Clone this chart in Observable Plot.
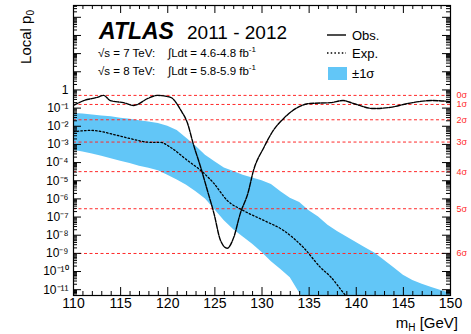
<!DOCTYPE html>
<html><head><meta charset="utf-8">
<script src="https://cdn.jsdelivr.net/npm/d3@7"></script>
<script src="https://cdn.jsdelivr.net/npm/@observablehq/plot@0.6"></script>
<style>body{margin:0;background:#fff}</style>
</head><body><div id="chart"></div>
<script>
// ---- data ----
const obsMass = [110, 111.1, 112.5, 113.2, 113.9, 115.3, 116.4, 117.9, 118.9, 120.3, 121.4, 122.1, 122.7, 123.5, 124.2, 124.9, 125.6, 126.3, 127.0, 127.7, 128.5, 129.1, 130.2, 131.2, 132.3, 133.8, 135.1, 137.3, 138.6, 139.7, 141.8, 143.6, 145.5, 148.0, 150];
const obsP = [0.14, 0.26, 0.39, 0.5, 0.26, 0.20, 0.14, 0.34, 0.5, 0.39, 0.074, 0.0145, 1.1e-3, 5.4e-5, 3.0e-6, 1.6e-7, 5.1e-9, 1.9e-9, 7.6e-9, 1.6e-7, 2.0e-6, 3.7e-5, 6.8e-4, 5.9e-3, 0.027, 0.11, 0.18, 0.20, 0.26, 0.18, 0.095, 0.11, 0.18, 0.26, 0.23];

const expMass = [110, 111.8, 114.7, 116.0, 118.2, 119.2, 120.3, 122.1, 123.5, 124.9, 126.3, 128.0, 130.2, 132.3, 134.4, 136.2, 137.3, 138.6, 140];
const expP = [5e-3, 5.9e-3, 3.1e-3, 2.1e-3, 1.3e-3, 1.3e-3, 6.8e-4, 1.3e-4, 3.7e-5, 7.1e-6, 8.3e-7, 2.3e-7, 6.5e-8, 1.8e-8, 2.1e-9, 1.7e-10, 5.0e-11, 7.1e-12, 1e-12];

const bandMass = [110,111,112,113,114,115,116,117,118,119,120,121,122,123,124,125,126,127,128,129,130,131,132,133,134,135,136,137,138,139,140,141,142,143,144,145,146,147,148,149,150];
const bandHi = [0.051,0.047,0.042,0.037,0.033,0.028,0.024,0.020,0.017,0.014,0.010,5.9e-3,2.2e-3,7.9e-4,2.5e-4,1.1e-4,5.0e-5,3.2e-5,2.0e-5,1.4e-5,1.0e-5,6.3e-6,2.5e-6,1.1e-6,6.3e-7,2.2e-7,1.0e-7,3.5e-8,1.6e-8,7.9e-9,4.0e-9,2.0e-9,1.0e-9,4.0e-10,1.6e-10,6.3e-11,3.2e-11,2.0e-11,1.3e-11,8.9e-12,6.3e-12];
const bandLo = [4.7e-4,3.8e-4,3.0e-4,2.2e-4,1.6e-4,1.2e-4,8.9e-5,6.3e-5,4.8e-5,3.5e-5,2.0e-5,1.1e-5,5.6e-6,2.5e-6,1.0e-6,2.5e-7,6.3e-8,2.0e-8,7.9e-9,3.2e-9,1.1e-9,3.5e-10,1.3e-10,4.5e-11,6.3e-12,1e-12,1e-13,1e-13,1e-13,1e-13,1e-13,1e-13,1e-13,1e-13,1e-13,1e-13,1e-13,1e-13,1e-13,1e-13,1e-13];

const sigmaP = [0.5, 0.1587, 0.02275, 1.35e-3, 3.17e-5, 2.87e-7, 9.87e-10];
const sigmaLabels = ["0σ", "1σ", "2σ", "3σ", "4σ", "5σ", "6σ"];

const xTickLabels = [110, 115, 120, 125, 130, 135, 140, 145, 150];
const yTickLabels = [1, 1e-1, 1e-2, 1e-3, 1e-4, 1e-5, 1e-6, 1e-7, 1e-8, 1e-9, 1e-10, 1e-11];

// ---- layout ----
const W = 471, H = 334, mL = 73, mR = 21, mT = 5, mB = 39;
const FW = W - mL - mR, FH = H - mT - mB;
const yDomain = [Math.pow(10, -11.32), Math.pow(10, 4.65)];

const obs = obsMass.map((m, i) => ({m, p: obsP[i]}));
const exp = expMass.map((m, i) => ({m, p: expP[i]}));
const band = bandMass.map((m, i) => ({m, hi: bandHi[i], lo: bandLo[i]}));

const xMinor = d3.range(110, 151, 1).filter(d => d % 5 !== 0);
const yMajor = d3.range(-11, 5).map(e => Math.pow(10, e));
const yMinor = [];
for (let e = -12; e <= 4; e++) for (let k = 2; k <= 9; k++) {
  const v = k * Math.pow(10, e);
  if (v > yDomain[0] && v < yDomain[1]) yMinor.push(v);
}
const supMap = {"-": "⁻", "0": "⁰", "1": "¹", "2": "²", "3": "³", "4": "⁴", "5": "⁵", "6": "⁶", "7": "⁷", "8": "⁸", "9": "⁹"};
const fmtY = d => {
  const e = Math.round(Math.log10(d));
  return e === 0 ? "1" : "10" + String(e).split("").map(c => supMap[c]).join("");
};

const MAJ = 8, MIN = 4;
const RED = "#ff2a2a";
const chart = Plot.plot({
  width: W, height: H,
  marginLeft: mL, marginRight: mR, marginTop: mT, marginBottom: mB,
  style: {fontFamily: "'Liberation Sans', Arial, Helvetica, sans-serif", background: "white", overflow: "visible"},
  x: {domain: [110, 150], axis: null},
  y: {type: "log", domain: yDomain, axis: null},
  marks: [
    Plot.areaY(band, {x: "m", y1: "lo", y2: "hi", fill: "#62c6f7", clip: true}),
    Plot.ruleY(sigmaP, {y: d => d, stroke: RED, strokeWidth: 1, strokeDasharray: "3,2.5"}),
    Plot.line(exp, {x: "m", y: "p", stroke: "black", strokeWidth: 1.3, strokeDasharray: "1.5,2.2", curve: "monotone-x", clip: true}),
    Plot.line(obs, {x: "m", y: "p", stroke: "black", strokeWidth: 1.4, strokeDasharray: "5,1.3", curve: "monotone-x", clip: true}),
    // x ticks (bottom, top) inward
    Plot.ruleX(xTickLabels, {x: d => d, insetTop: FH - MAJ, stroke: "black"}),
    Plot.ruleX(xMinor, {x: d => d, insetTop: FH - MIN, stroke: "black"}),
    Plot.ruleX(xTickLabels, {x: d => d, insetBottom: FH - MAJ, stroke: "black"}),
    Plot.ruleX(xMinor, {x: d => d, insetBottom: FH - MIN, stroke: "black"}),
    // y ticks (left, right) inward
    Plot.ruleY(yMajor, {y: d => d, insetRight: FW - MAJ, stroke: "black"}),
    Plot.ruleY(yMinor, {y: d => d, insetRight: FW - MIN, stroke: "black"}),
    Plot.ruleY(yMajor, {y: d => d, insetLeft: FW - MAJ, stroke: "black"}),
    Plot.ruleY(yMinor, {y: d => d, insetLeft: FW - MIN, stroke: "black"}),
    Plot.frame({stroke: "black", strokeWidth: 1.2}),
    // tick labels
    Plot.text(xTickLabels, {x: d => d, frameAnchor: "bottom", dy: 12, text: d => String(d), fontSize: 14, fill: "black"}),
    Plot.text(yTickLabels, {y: d => d, frameAnchor: "left", dx: -5, textAnchor: "end", text: fmtY, fontSize: 12, fill: "black"}),
    Plot.text(sigmaP, {y: d => d, frameAnchor: "right", dx: 6, textAnchor: "start", text: (d, i) => sigmaLabels[i], fontSize: 9, fill: RED})
  ]
});
document.getElementById("chart").appendChild(chart);

// ---- annotations ----
const svg = d3.select(chart);
const g = svg.append("g").attr("fill", "black").attr("text-anchor", "start");
g.append("text").attr("x", 99).attr("y", 39).attr("font-size", 23).attr("font-weight", "bold").attr("font-style", "italic").text("ATLAS");
g.append("text").attr("x", 187).attr("y", 39).attr("font-size", 19).text("2011 - 2012");
const l1 = g.append("text").attr("x", 98).attr("y", 57).attr("font-size", 11.5);
l1.append("tspan").text("√s = 7 TeV:");
l1.append("tspan").attr("x", 168).text("∫Ldt = 4.6-4.8 fb");
l1.append("tspan").attr("font-size", 8).attr("dy", -5).text("-1");
const l2 = g.append("text").attr("x", 98).attr("y", 75).attr("font-size", 11.5);
l2.append("tspan").text("√s = 8 TeV:");
l2.append("tspan").attr("x", 168).text("∫Ldt = 5.8-5.9 fb");
l2.append("tspan").attr("font-size", 8).attr("dy", -5).text("-1");

// legend
g.append("line").attr("x1", 327).attr("x2", 346).attr("y1", 35).attr("y2", 35).attr("stroke", "black").attr("stroke-width", 1.4);
g.append("text").attr("x", 352).attr("y", 39.5).attr("font-size", 13).text("Obs.");
g.append("line").attr("x1", 327).attr("x2", 346).attr("y1", 53).attr("y2", 53).attr("stroke", "black").attr("stroke-width", 1.3).attr("stroke-dasharray", "1.5,2.2");
g.append("text").attr("x", 352).attr("y", 57.5).attr("font-size", 13).text("Exp.");
g.append("rect").attr("x", 328).attr("y", 67).attr("width", 19).attr("height", 13).attr("fill", "#62c6f7");
g.append("text").attr("x", 352).attr("y", 78).attr("font-size", 13).text("±1σ");

// axis titles
const xl = g.append("text").attr("x", 458).attr("y", 328).attr("text-anchor", "end").attr("font-size", 15);
xl.append("tspan").text("m");
xl.append("tspan").attr("font-size", 10).attr("dy", 3).text("H");
xl.append("tspan").attr("dy", -3).text(" [GeV]");
const yl = g.append("text").attr("transform", "translate(31,10) rotate(-90)").attr("text-anchor", "end").attr("font-size", 15);
yl.append("tspan").text("Local p");
yl.append("tspan").attr("font-size", 10).attr("dy", 3).text("0");
</script>
</body></html>
